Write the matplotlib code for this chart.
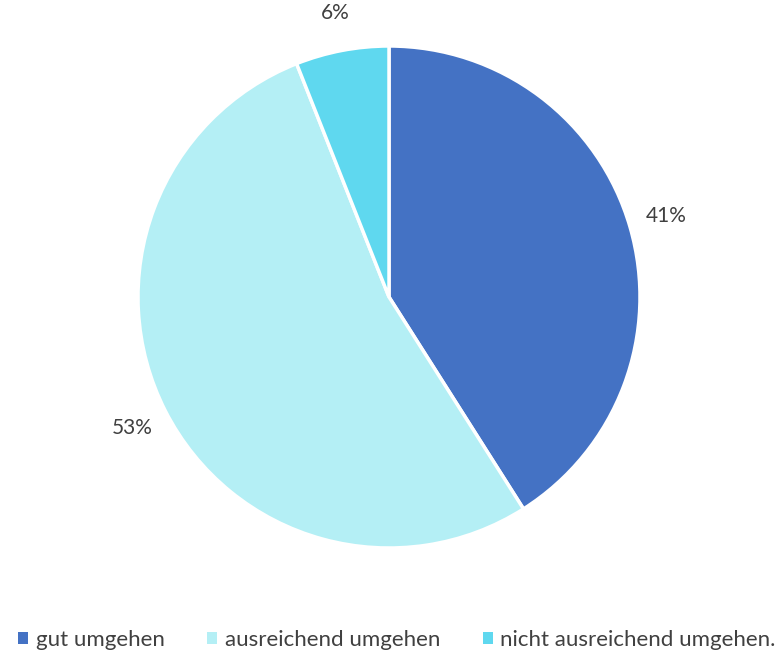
import matplotlib.pyplot as plt
from matplotlib.patches import Patch

labels = ["gut umgehen", "ausreichend umgehen", "nicht ausreichend umgehen."]
values = [41, 53, 6]
colors = ["#4472C4", "#B4EFF5", "#5FD8EF"]

plt.rcParams["font.family"] = ["Lato", "DejaVu Sans"]

fig = plt.figure(figsize=(7.8, 6.53), dpi=100)
cx, cy, r = 389, 297, 251
ax = fig.add_axes([(cx - r) / 780, (653 - cy - r) / 653, 2 * r / 780, 2 * r / 653])
wedges, texts, autotexts = ax.pie(values, colors=colors, startangle=90, counterclock=False,
                                  autopct=lambda p: "%d%%" % round(p), pctdistance=1.15, radius=1,
                                  wedgeprops=dict(edgecolor="white", linewidth=2.5),
                                  textprops=dict(color="#404040", fontsize=15))
ax.set_xlim(-1, 1)
ax.set_ylim(-1, 1)
ax.set_aspect("equal")
ax.axis("off")

handles = [Patch(facecolor=c, edgecolor="none") for c in colors]
fig.legend(handles, labels, loc="center", bbox_to_anchor=(397 / 780, 1 - 640 / 653), ncol=3,
           frameon=False, fontsize=16, handlelength=0.45, handleheight=0.45,
           handletextpad=0.35, columnspacing=1.9, labelcolor="#404040")

fig.savefig("out.png", dpi=100)
